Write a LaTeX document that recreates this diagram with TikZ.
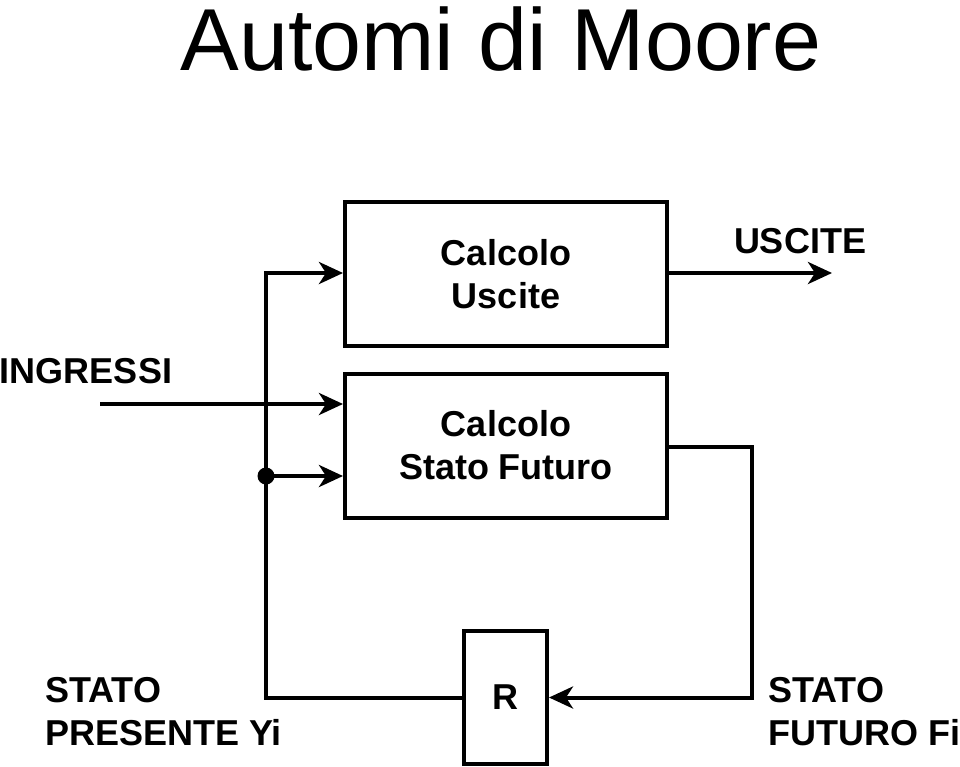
\documentclass[tikz,border=0pt]{standalone}
\usepackage{fontspec}
\setmainfont{Liberation Sans}
\usetikzlibrary{arrows.meta}

\tikzset{
  blocco/.style={draw,line width=4pt,minimum width=322pt,minimum height=144pt,inner sep=0pt,align=center,font=\fontsize{36}{43}\selectfont\bfseries},
  etichetta/.style={font=\fontsize{36}{43}\selectfont\bfseries,inner sep=0pt},
  filo/.style={line width=4pt},
  freccia/.style={filo,-{Stealth[length=24pt,width=22pt,inset=7pt]}},
}

\begin{document}
\begin{tikzpicture}[x=1pt,y=-1pt]
  \useasboundingbox (0,0) rectangle (960,766);

  \node[font=\fontsize{88}{100}\selectfont,anchor=base,inner sep=0pt] (titolo) at (501,70) {Automi di Moore};

  \node[blocco] (CU) at (506,274) {Calcolo\\Uscite};
  \node[blocco] (CSF) at (506,445.5) {Calcolo\\Stato Futuro};
  \node[blocco,minimum width=83pt,minimum height=133pt] (R) at (505.5,697.5) {R};

  \coordinate (ingr) at (100,404);
  \coordinate (usc) at (832,273);
  \coordinate (nodo) at (266,476);
  \coordinate (angolo) at (752,447);

  \draw[freccia] (R.west) -- (nodo |- R.west) -- (nodo |- usc) -- (CU.west |- usc);
  \draw[freccia] (nodo) -- (CSF.west |- nodo);
  \fill (nodo) circle (8.5);
  \draw[freccia] (ingr) -- (CSF.west |- ingr);
  \draw[freccia] (CU.east |- usc) -- (usc);
  \draw[freccia] (CSF.east |- angolo) -- (angolo) -- (angolo |- R.east) -- (R.east);

  \node[etichetta,anchor=base] (lusc) at (800,253) {USCITE};
  \node[etichetta,anchor=base] (lingr) at (86,383) {INGRESSI};
  \node[etichetta,align=left,anchor=north west] (lsp) at (45,677) {STATO\\PRESENTE Yi};
  \node[etichetta,align=left,anchor=north west] (lsf) at (768,677) {STATO\\FUTURO Fi};

\end{tikzpicture}
\end{document}
